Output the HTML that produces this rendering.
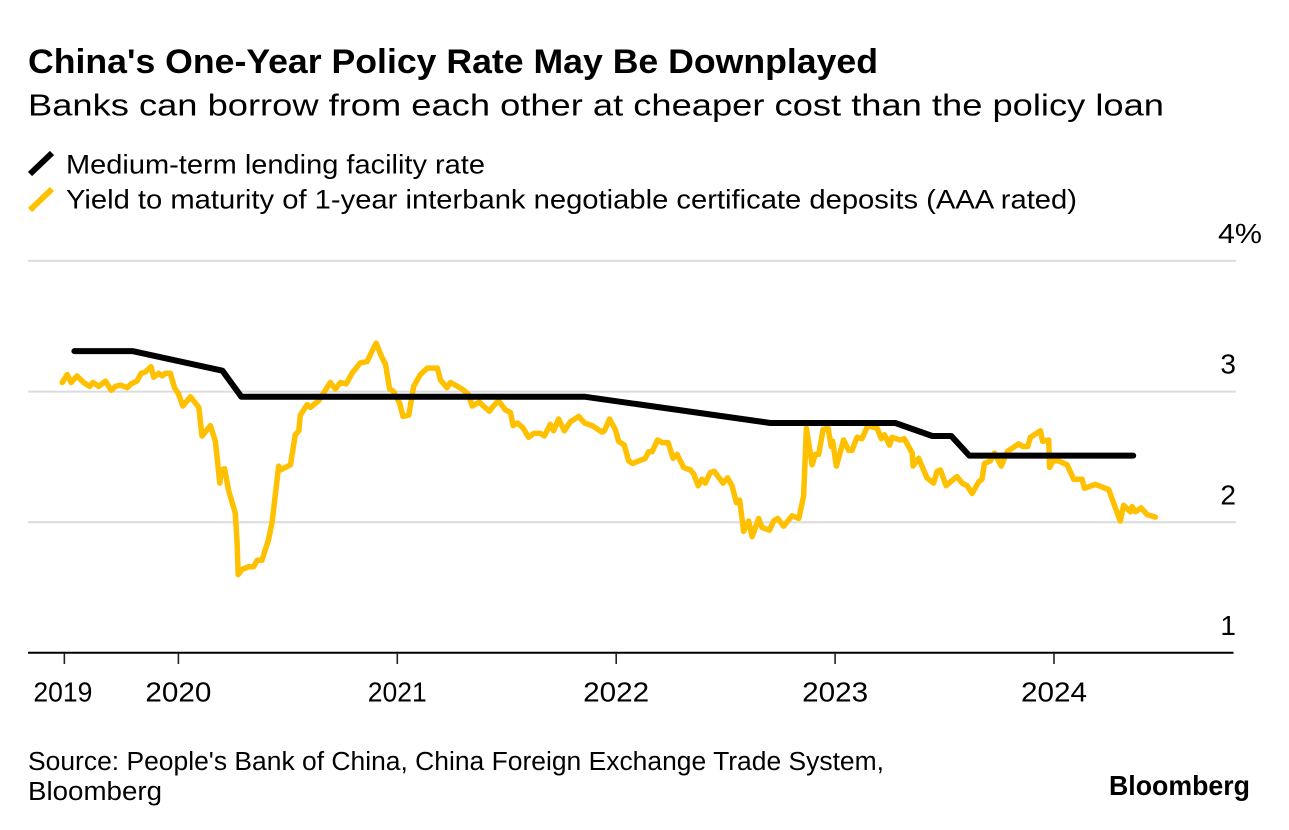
<!DOCTYPE html>
<html lang="en">
<head>
<meta charset="utf-8">
<title>China's One-Year Policy Rate May Be Downplayed</title>
<style>
  html, body { margin: 0; padding: 0; background: #fff; }
  svg { display: block; }
  text { font-family: "Liberation Sans", Arial, sans-serif; fill: #000; }
</style>
</head>
<body>
<svg id="chart" xmlns="http://www.w3.org/2000/svg" width="1289" height="830" viewBox="0 0 1289 830">
  <text x="28" y="73" font-size="34" font-weight="700" textLength="850" lengthAdjust="spacingAndGlyphs">China's One-Year Policy Rate May Be Downplayed</text>
  <text x="28" y="115.5" font-size="30.5" textLength="1136" lengthAdjust="spacingAndGlyphs">Banks can borrow from each other at cheaper cost than the policy loan</text>

  <g>
    <line x1="30" y1="174" x2="52" y2="153" stroke="#000" stroke-width="6"/>
    <text x="66" y="173.5" font-size="26.5" textLength="419" lengthAdjust="spacingAndGlyphs">Medium-term lending facility rate</text>
    <line x1="30" y1="210" x2="52" y2="189" stroke="#ffc000" stroke-width="6"/>
    <text x="66" y="208.5" font-size="26.5" textLength="1011" lengthAdjust="spacingAndGlyphs">Yield to maturity of 1-year interbank negotiable certificate deposits (AAA rated)</text>
  </g>

  <g id="grid"></g>
  <g id="yLabels"></g>
  <g id="series"></g>
  <g id="xAxis"></g>

  <text x="28" y="770" font-size="25.5" textLength="856" lengthAdjust="spacingAndGlyphs">Source: People's Bank of China, China Foreign Exchange Trade System,</text>
  <text x="28" y="800" font-size="25.5" textLength="134" lengthAdjust="spacingAndGlyphs">Bloomberg</text>
  <text x="1109" y="795" font-size="28" font-weight="700" textLength="141" lengthAdjust="spacingAndGlyphs">Bloomberg</text>
</svg>

<script>
const yTicks = [4, 3, 2];
const yLabelValues = [4, 3, 2, 1];
const yLabelTexts = ['4%', '3', '2', '1'];
const xTickYears = [2019.479, 2020, 2021, 2022, 2023, 2024];
const xTickLabels = ['2019', '2020', '2021', '2022', '2023', '2024'];

const mlfDates = [2019.525, 2019.790, 2020.201, 2020.288, 2021.859, 2022.704, 2023.275, 2023.444, 2023.531, 2023.613, 2024.362];
const mlfValues = [3.31, 3.31, 3.16, 2.96, 2.96, 2.76, 2.76, 2.66, 2.66, 2.51, 2.51];

const yieldDates = [
  2019.469, 2019.492, 2019.510, 2019.537, 2019.567, 2019.595, 2019.610, 2019.636, 2019.667, 2019.693,
  2019.712, 2019.735, 2019.766, 2019.784, 2019.811, 2019.830, 2019.849, 2019.875, 2019.887, 2019.910,
  2019.926, 2019.941, 2019.963, 2019.982, 2020.001, 2020.020, 2020.055, 2020.093, 2020.108, 2020.146,
  2020.169, 2020.189, 2020.196, 2020.211, 2020.230, 2020.260, 2020.268, 2020.273, 2020.291, 2020.321,
  2020.344, 2020.360, 2020.382, 2020.412, 2020.428, 2020.458, 2020.466, 2020.512, 2020.534, 2020.550,
  2020.557, 2020.588, 2020.603, 2020.641, 2020.694, 2020.717, 2020.740, 2020.767, 2020.793, 2020.831,
  2020.862, 2020.885, 2020.903, 2020.930, 2020.946, 2020.965, 2020.983, 2021.011, 2021.026, 2021.052,
  2021.075, 2021.105, 2021.137, 2021.183, 2021.197, 2021.227, 2021.243, 2021.296, 2021.325, 2021.342,
  2021.375, 2021.393, 2021.421, 2021.439, 2021.462, 2021.494, 2021.517, 2021.529, 2021.549, 2021.575,
  2021.600, 2021.623, 2021.654, 2021.672, 2021.699, 2021.714, 2021.737, 2021.763, 2021.791, 2021.829,
  2021.855, 2021.890, 2021.935, 2021.946, 2021.970, 2021.996, 2022.011, 2022.037, 2022.057, 2022.075,
  2022.133, 2022.148, 2022.164, 2022.189, 2022.210, 2022.237, 2022.260, 2022.278, 2022.308, 2022.339,
  2022.354, 2022.374, 2022.392, 2022.407, 2022.430, 2022.448, 2022.488, 2022.509, 2022.529, 2022.549,
  2022.564, 2022.582, 2022.605, 2022.621, 2022.651, 2022.666, 2022.701, 2022.719, 2022.738, 2022.765,
  2022.803, 2022.834, 2022.856, 2022.869, 2022.895, 2022.910, 2022.925, 2022.945, 2022.968, 2022.982,
  2022.989, 2023.006, 2023.039, 2023.062, 2023.077, 2023.100, 2023.123, 2023.149, 2023.192, 2023.211,
  2023.225, 2023.249, 2023.260, 2023.298, 2023.316, 2023.352, 2023.356, 2023.382, 2023.420, 2023.450,
  2023.466, 2023.481, 2023.507, 2023.534, 2023.557, 2023.580, 2023.603, 2023.626, 2023.656, 2023.671,
  2023.682, 2023.709, 2023.728, 2023.759, 2023.786, 2023.838, 2023.857, 2023.880, 2023.892, 2023.938,
  2023.948, 2023.976, 2023.980, 2023.996, 2024.021, 2024.060, 2024.090, 2024.128, 2024.139, 2024.189,
  2024.250, 2024.272, 2024.303, 2024.318, 2024.349, 2024.357, 2024.372, 2024.398, 2024.425, 2024.463
];
const yieldValues = [
  3.07, 3.13, 3.07, 3.12, 3.07, 3.04, 3.07, 3.04, 3.08, 3.01,
  3.04, 3.05, 3.03, 3.06, 3.08, 3.14, 3.15, 3.19, 3.11, 3.14,
  3.12, 3.14, 3.14, 3.03, 2.98, 2.89, 2.96, 2.88, 2.66, 2.74,
  2.62, 2.30, 2.40, 2.41, 2.24, 2.07, 1.84, 1.60, 1.64, 1.66,
  1.66, 1.71, 1.71, 1.87, 2.00, 2.43, 2.40, 2.44, 2.67, 2.70,
  2.82, 2.90, 2.88, 2.93, 3.07, 3.02, 3.07, 3.06, 3.14, 3.22,
  3.23, 3.31, 3.37, 3.26, 3.21, 3.02, 3.00, 2.91, 2.81, 2.82,
  3.04, 3.13, 3.18, 3.18, 3.09, 3.03, 3.07, 3.02, 2.98, 2.89,
  2.92, 2.89, 2.85, 2.89, 2.93, 2.86, 2.84, 2.74, 2.76, 2.72,
  2.65, 2.68, 2.68, 2.66, 2.75, 2.70, 2.79, 2.70, 2.77, 2.81,
  2.76, 2.74, 2.69, 2.70, 2.79, 2.71, 2.62, 2.59, 2.47, 2.45,
  2.49, 2.54, 2.54, 2.63, 2.61, 2.61, 2.49, 2.52, 2.42, 2.40,
  2.37, 2.28, 2.33, 2.30, 2.38, 2.39, 2.30, 2.34, 2.28, 2.15,
  2.17, 1.93, 2.01, 1.89, 2.03, 1.96, 1.94, 2.01, 2.03, 1.97,
  2.05, 2.03, 2.20, 2.72, 2.44, 2.52, 2.52, 2.71, 2.72, 2.58,
  2.62, 2.43, 2.63, 2.55, 2.55, 2.65, 2.64, 2.74, 2.72, 2.64,
  2.67, 2.59, 2.65, 2.63, 2.64, 2.53, 2.43, 2.49, 2.34, 2.30,
  2.39, 2.40, 2.28, 2.32, 2.35, 2.30, 2.28, 2.22, 2.31, 2.33,
  2.45, 2.47, 2.53, 2.43, 2.54, 2.60, 2.58, 2.58, 2.65, 2.70,
  2.62, 2.63, 2.42, 2.47, 2.47, 2.44, 2.33, 2.33, 2.26, 2.29,
  2.25, 2.15, 2.01, 2.13, 2.08, 2.12, 2.08, 2.11, 2.06, 2.04
];

const SVG_NS = 'http://www.w3.org/2000/svg';
function xScale(year) { return 178.4 + (year - 2020) * 218.9; }
function yScale(value) { return 522.3 + (2 - value) * 130.7; }
function toPoints(dates, values) {
  return dates.map(function (d, i) { return xScale(d).toFixed(1) + ',' + yScale(values[i]).toFixed(1); }).join(' ');
}

const grid = document.getElementById('grid');
yTicks.forEach(function (t) {
  const line = document.createElementNS(SVG_NS, 'line');
  
  
  line.setAttribute('x1', 28);
  line.setAttribute('x2', 1236);
  line.setAttribute('y1', yScale(t));
  line.setAttribute('y2', yScale(t));
  line.setAttribute('stroke', '#dcdcdc');
  line.setAttribute('stroke-width', 2);
  grid.appendChild(line);
});

const yLabels = document.getElementById('yLabels');
yLabelValues.forEach(function (v, i) {
  const label = document.createElementNS(SVG_NS, 'text');
  
  
  label.setAttribute('y', yScale(v) - 18);
  label.setAttribute('font-size', 28);
  if (i === 0) {
    label.setAttribute('x', 1218);
    label.setAttribute('textLength', 44);
    label.setAttribute('lengthAdjust', 'spacingAndGlyphs');
  } else {
    label.setAttribute('x', 1236);
    label.setAttribute('text-anchor', 'end');
  }
  label.textContent = yLabelTexts[i];
  yLabels.appendChild(label);
});

const series = document.getElementById('series');
const yieldLine = document.createElementNS(SVG_NS, 'polyline');


yieldLine.setAttribute('points', toPoints(yieldDates, yieldValues));
yieldLine.setAttribute('fill', 'none');
yieldLine.setAttribute('stroke', '#ffc000');
yieldLine.setAttribute('stroke-width', 5.5);
yieldLine.setAttribute('stroke-linejoin', 'round');
yieldLine.setAttribute('stroke-linecap', 'round');
series.appendChild(yieldLine);

const mlfLine = document.createElementNS(SVG_NS, 'polyline');


mlfLine.setAttribute('points', toPoints(mlfDates, mlfValues));
mlfLine.setAttribute('fill', 'none');
mlfLine.setAttribute('stroke', '#000');
mlfLine.setAttribute('stroke-width', 6);
mlfLine.setAttribute('stroke-linejoin', 'round');
mlfLine.setAttribute('stroke-linecap', 'round');
series.appendChild(mlfLine);

const xAxis = document.getElementById('xAxis');
const axisLine = document.createElementNS(SVG_NS, 'line');


axisLine.setAttribute('x1', 28);
axisLine.setAttribute('x2', 1233.5);
axisLine.setAttribute('y1', 652.7);
axisLine.setAttribute('y2', 652.7);
axisLine.setAttribute('stroke', '#000');
axisLine.setAttribute('stroke-width', 2);
xAxis.appendChild(axisLine);

xTickYears.forEach(function (yr, i) {
  const tick = document.createElementNS(SVG_NS, 'line');
  
  
  tick.setAttribute('x1', xScale(yr));
  tick.setAttribute('x2', xScale(yr));
  tick.setAttribute('y1', 653);
  tick.setAttribute('y2', 664);
  tick.setAttribute('stroke', '#222');
  tick.setAttribute('stroke-width', 1.6);
  xAxis.appendChild(tick);

  const label = document.createElementNS(SVG_NS, 'text');
  
  
  label.setAttribute('x', xScale(yr) - (i === 0 ? 1.5 : 0));
  label.setAttribute('y', 701.5);
  label.setAttribute('text-anchor', 'middle');
  label.setAttribute('font-size', 27.5);
  label.setAttribute('textLength', xTickLabels[i].indexOf('1') >= 0 ? 59 : 66);
  label.setAttribute('lengthAdjust', 'spacingAndGlyphs');
  label.textContent = xTickLabels[i];
  xAxis.appendChild(label);
});
</script>
</body>
</html>
